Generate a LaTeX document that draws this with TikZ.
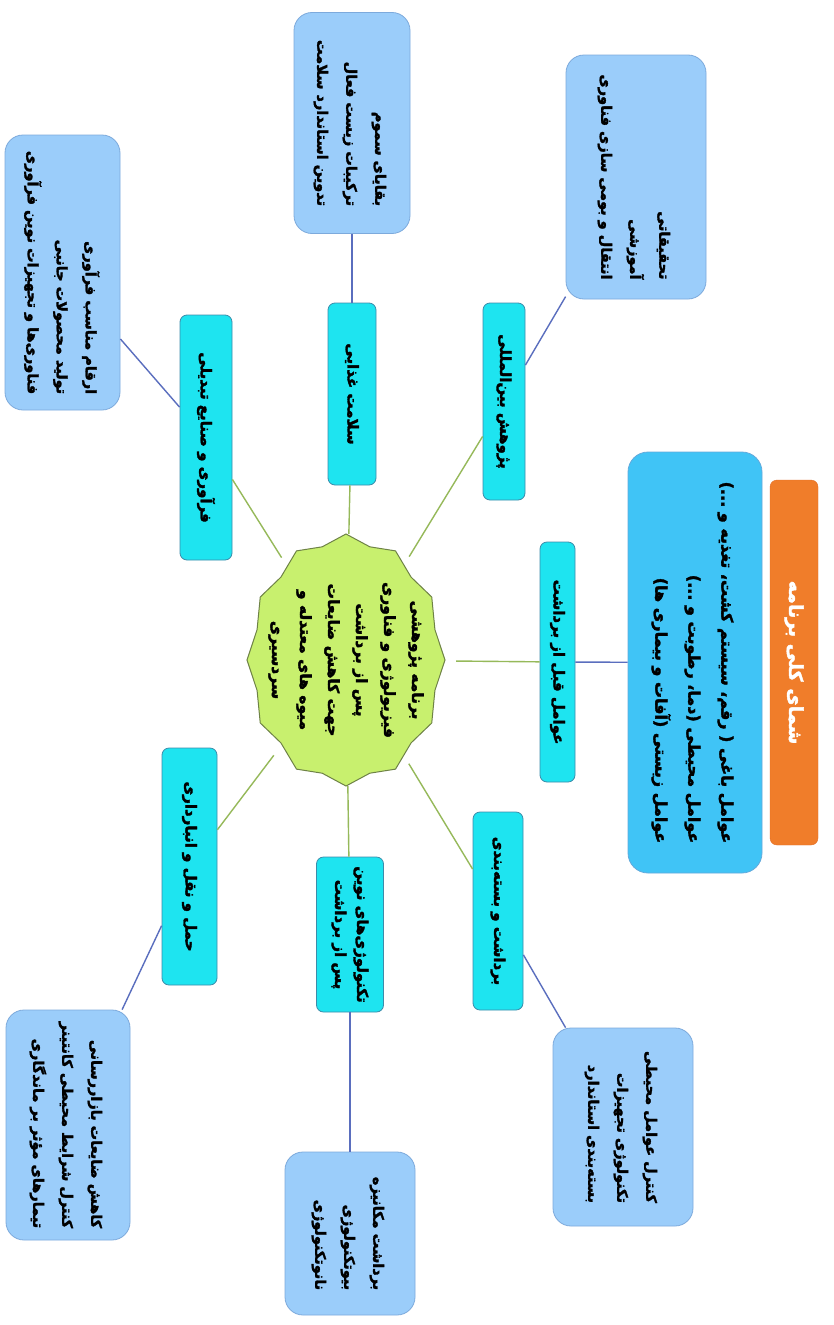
\documentclass[tikz,border=0pt]{standalone}
\usepackage{fontspec}
\newfontfamily\fa[Script=Arabic, FakeBold=2.2]{DejaVu Sans}
\TeXXeTstate=1
\usetikzlibrary{shapes.geometric}
\newcommand\farl[1]{\beginR #1\endR}
\newcommand\rstack[1]{\begin{tabular}{@{}r@{}}#1\end{tabular}}
\definecolor{cyanfill}{RGB}{30,228,240}
\definecolor{cyanedge}{RGB}{60,140,170}
\definecolor{lightfill}{RGB}{155,205,250}
\definecolor{lightedge}{RGB}{125,170,220}
\definecolor{bigfill}{RGB}{64,196,246}
\definecolor{bigedge}{RGB}{100,170,220}
\definecolor{orangefill}{RGB}{240,125,42}
\definecolor{orangeedge}{RGB}{225,110,40}
\definecolor{starfill}{RGB}{200,240,110}
\definecolor{staredge}{RGB}{110,130,70}
\definecolor{greenline}{RGB}{150,185,90}
\definecolor{blueline}{RGB}{90,110,190}
\tikzset{
  cyanbox/.style={draw=cyanedge, fill=cyanfill, rounded corners=7pt, rotate=-90, align=center, inner sep=2pt, line width=0.8pt, font=\fa\bfseries\fontsize{15}{22}\selectfont},
  lightbox/.style={draw=lightedge, fill=lightfill, rounded corners=18pt, rotate=-90, inner sep=2pt, line width=0.8pt, font=\fa\bfseries\fontsize{14.5}{29}\selectfont},
  bigbox/.style={draw=bigedge, fill=bigfill, rounded corners=20pt, rotate=-90, inner sep=2pt, line width=0.8pt, font=\fa\bfseries\fontsize{16}{33}\selectfont},
  titlebox/.style={draw=orangeedge, fill=orangefill, rounded corners=7pt, rotate=-90, align=center, inner sep=2pt, text=white, font=\fa\bfseries\fontsize{19}{22}\selectfont},
  centertext/.style={ellipse, rotate=-90, align=center, inner sep=0pt, font=\fa\bfseries\fontsize{15.5}{28}\selectfont},
  greenconn/.style={draw=greenline, line width=1.4pt},
  blueconn/.style={draw=blueline, line width=1.4pt}
}
\begin{document}
\begin{tikzpicture}[x=1pt,y=-1pt]
\useasboundingbox (0,0) rectangle (833,1325);
\fill[white] (0,0) rectangle (833,1325);

% central polygon
\draw[fill=starfill, draw=staredge, line width=1pt]
  plot[samples at={0,15,...,345}, variable=\t]
  ({346+99*(1-0.07*(mod(\t,30)/15))*cos(\t)}, {660+126*(1-0.07*(mod(\t,30)/15))*sin(\t)}) -- cycle;
\node[centertext, minimum width=252pt, minimum height=198pt] (ctr) at (346,660)
  {\farl{برنامه پژوهشی}\\\farl{فیزیولوژی و فناوری}\\\farl{پس از برداشت}\\\farl{جهت کاهش ضایعات}\\\farl{میوه های معتدله و}\\\farl{سردسیری}};

% title and main box
\node[titlebox, minimum width=365pt, minimum height=48pt] (title) at (794,662.5) {\farl{شمای کلی برنامه}};
\node[bigbox, minimum width=421pt, minimum height=134pt] (big) at (695,662.5)
  {\rstack{\farl{عوامل باغی ( رقم، سیستم کشت، تغذیه و ...)}\\\farl{عوامل محیطی (دما، رطوبت و ...)}\\\farl{عوامل زیستی (آفات و بیماری ها)}}};

% cyan boxes
\node[cyanbox, minimum width=240pt, minimum height=35pt] (c1) at (557.5,662) {\farl{عوامل قبل از برداشت}};
\node[cyanbox, minimum width=198pt, minimum height=50pt] (c2) at (498,911) {\farl{برداشت و بسته‌بندی}};
\node[cyanbox, minimum width=155pt, minimum height=67pt] (c3) at (350,934.5) {\farl{تکنولوژی‌های نوین}\\\farl{پس از برداشت}};
\node[cyanbox, minimum width=237pt, minimum height=55pt] (c4) at (189.5,866.5) {\farl{حمل و نقل و انبارداری}};
\node[cyanbox, minimum width=245pt, minimum height=52pt] (c5) at (206,437.5) {\farl{فرآوری و صنایع تبدیلی}};
\node[cyanbox, minimum width=182pt, minimum height=48pt] (c6) at (352,394) {\farl{سلامت غذایی}};
\node[cyanbox, minimum width=197pt, minimum height=42pt] (c7) at (504,401.5) {\farl{پژوهش بین‌المللی}};

% light boxes
\node[lightbox, minimum width=244pt, minimum height=140pt] (l1) at (636,177)
  {\rstack{\farl{تحقیقاتی}\\\farl{آموزشی}\\\farl{انتقال و بومی سازی فناوری}}};
\node[lightbox, minimum width=221pt, minimum height=116pt] (l2) at (352,123)
  {\rstack{\farl{بقایای سموم}\\\farl{ترکیبات زیست فعال}\\\farl{تدوین استاندارد سلامت}}};
\node[lightbox, minimum width=275pt, minimum height=115pt] (l3) at (62.5,272.5)
  {\rstack{\farl{ارقام مناسب فرآوری}\\\farl{تولید محصولات جانبی}\\\farl{فناوری‌ها و تجهیزات نوین فرآوری}}};
\node[lightbox, minimum width=198pt, minimum height=140pt] (l4) at (623,1127)
  {\rstack{\farl{کنترل عوامل محیطی}\\\farl{تکنولوژی تجهیزات}\\\farl{بسته‌بندی استاندارد}}};
\node[lightbox, minimum width=163pt, minimum height=130pt] (l5) at (350,1233.5)
  {\rstack{\farl{برداشت مکانیزه}\\\farl{بیوتکنولوژی}\\\farl{نانوتکنولوژی}}};
\node[lightbox, minimum width=230pt, minimum height=124pt] (l6) at (68,1125)
  {\rstack{\farl{کاهش ضایعات بازاررسانی}\\\farl{کنترل شرایط محیطی کانتینر}\\\farl{تیمارهای مؤثر بر ماندگاری}}};

% connectors
\foreach \b in {c1,c2,c3,c4,c5,c6,c7} \draw[greenconn] (ctr) -- (\b);
\draw[blueconn] (c1) -- (big);
\draw[blueconn] (c7) -- (l1);
\draw[blueconn] (c6) -- (l2);
\draw[blueconn] (c5) -- (l3);
\draw[blueconn] (c2) -- (l4);
\draw[blueconn] (c3) -- (l5);
\draw[blueconn] (c4) -- (l6);
\end{tikzpicture}
\end{document}
